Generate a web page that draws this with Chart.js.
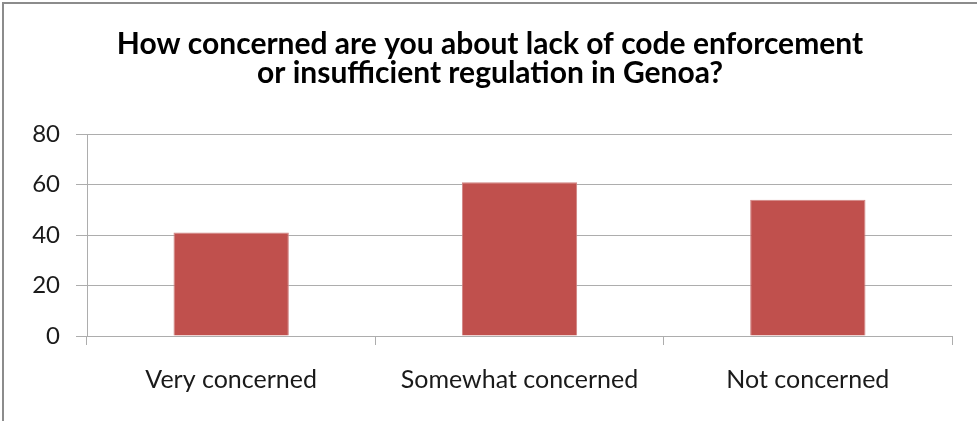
<!DOCTYPE html>
<html>
<head>
<meta charset="utf-8">
<script src="https://cdn.jsdelivr.net/npm/chart.js@4/dist/chart.umd.min.js"></script>
<style>
  html, body { margin: 0; padding: 0; background: #fff; }
  #frame {
    position: absolute; left: 2px; top: 2px;
    width: 975px; height: 419px;
    border-left: 2px solid #8c8c8c; border-top: 2px solid #8c8c8c;
    box-sizing: border-box; background: #fff;
  }
  #wrap { position: absolute; left: 0; top: 0; width: 973px; height: 417px; }
</style>
</head>
<body>
<div id="frame"><div id="wrap"><canvas id="chart"></canvas></div></div>
<script>
// Survey: concern about code enforcement / regulation in Genoa
const titleLines = ['How concerned are you about lack of code enforcement', 'or insufficient regulation in Genoa?'];
const categories = ['Very concerned', 'Somewhat concerned', 'Not concerned'];
const responses = [41, 61, 54];
const yTicks = [0, 20, 40, 60, 80];

const GRID = '#adadad';
const BAR = '#c0504d';

new Chart(document.getElementById('chart'), {
  type: 'bar',
  data: {
    labels: categories,
    datasets: [{
      data: responses,
      backgroundColor: BAR,
      borderColor: '#cf8280',
      borderWidth: 1,
      barPercentage: 0.4,
      categoryPercentage: 1,
    }],
  },
  options: {
    responsive: true,
    maintainAspectRatio: false,
    animation: false,
    // near-equal side padding keeps the title centred on the whole box
    layout: { padding: { left: 24, right: 25, top: 0, bottom: 0 }, autoPadding: false },
    plugins: {
      legend: { display: false },
      tooltip: { enabled: false },
      title: {
        display: true,
        text: titleLines,
        color: '#000',
        font: { family: 'Lato', size: 30, weight: 'bold', lineHeight: 0.97 },
        padding: { top: 25.5, bottom: 46.5 },
      },
    },
    scales: {
      x: {
        grid: { offset: true, drawOnChartArea: false, drawTicks: true, tickLength: 9, color: GRID },
        border: { display: true, color: GRID },
        ticks: { color: '#1a1a1a', padding: 20, font: { family: 'Lato', size: 25 } },
        afterFit: s => { s.height = 85; },
      },
      y: {
        min: 0,
        max: 80,
        afterBuildTicks: s => { s.ticks = yTicks.map(v => ({ value: v })); },
        grid: { color: GRID, drawTicks: true, tickLength: 11 },
        border: { display: true, color: GRID },
        ticks: { color: '#1a1a1a', padding: 16, font: { family: 'Lato', size: 24 } },
        afterFit: s => { s.width = 59; },
      },
    },
  },
});
</script>
</body>
</html>
